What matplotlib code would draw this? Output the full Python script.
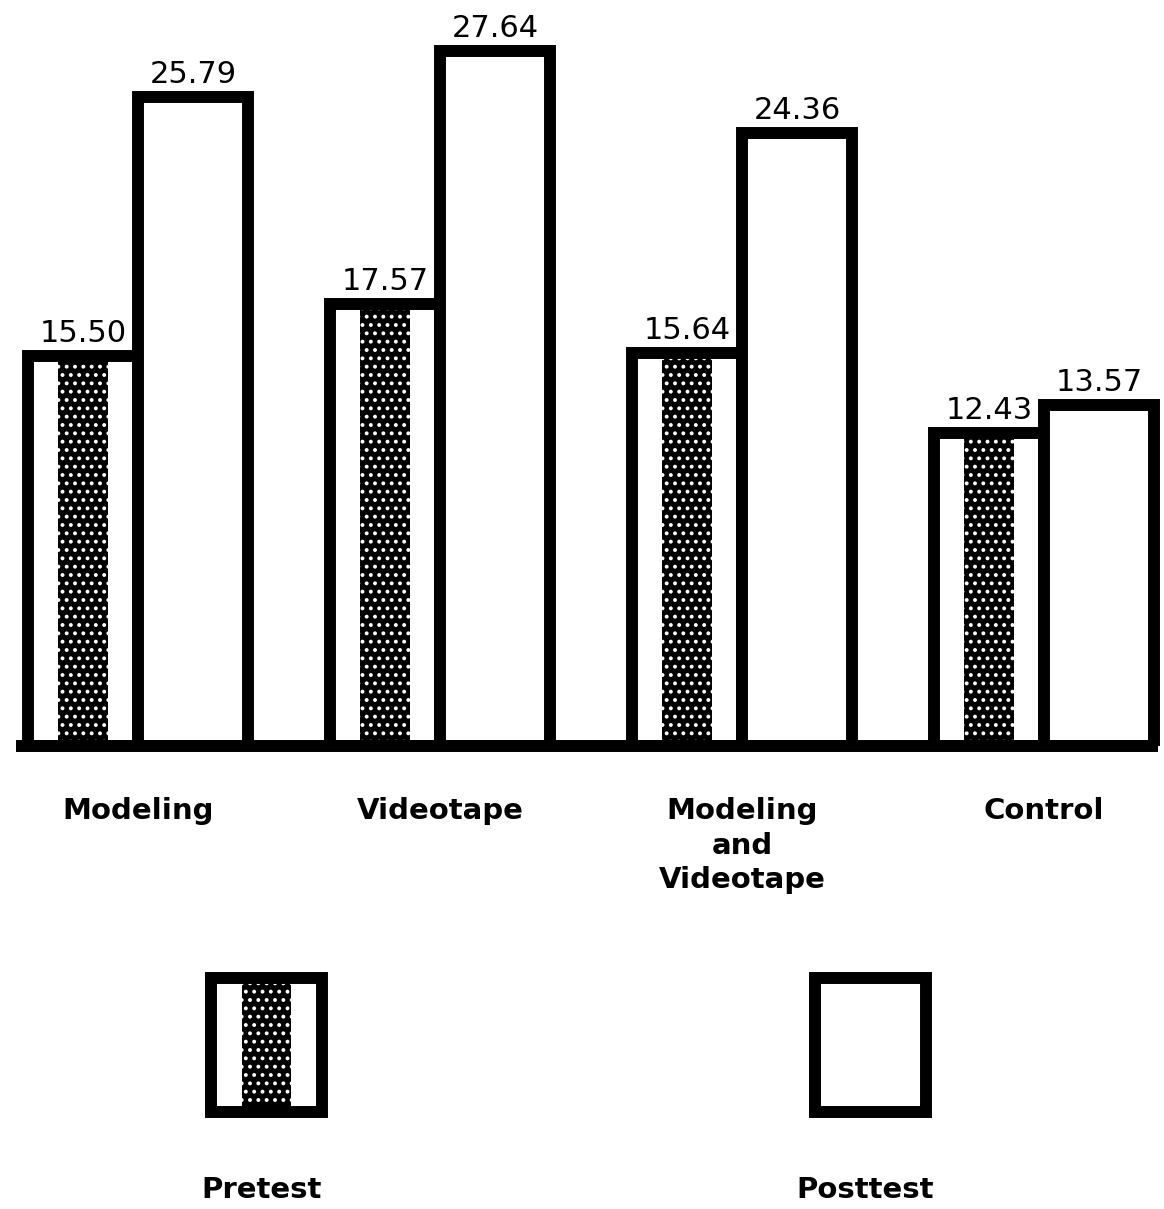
import matplotlib
matplotlib.use("Agg")
import matplotlib.pyplot as plt
from matplotlib.patches import Rectangle
import numpy as np

# ---- data ----
categories = ["Modeling", "Videotape", "Modeling\nand\nVideotape", "Control"]
pretest = [15.50, 17.57, 15.64, 12.43]
posttest = [25.79, 27.64, 24.36, 13.57]
pre_labels = ["15.50", "17.57", "15.64", "12.43"]
post_labels = ["25.79", "27.64", "24.36", "13.57"]
legend_labels = ["Pretest", "Posttest"]

plt.rcParams["hatch.linewidth"] = 1.6

W, H = 1164, 1209
fig = plt.figure(figsize=(W / 100, H / 100), dpi=100)
fig.patch.set_facecolor("white")

base_px = 746          # pixel row of the zero line
px_per_unit = 25.15
ax = fig.add_axes([0, 1 - base_px / H, 1, base_px / H])
ax.set_xlim(0, W)
ax.set_ylim(0, base_px / px_per_unit)
ax.axis("off")

LW = 8.6  # ~12 px border
group_c = 138 + 302 * np.arange(len(categories))
bw = 110
strip_w = 50

pre_x = group_c - bw / 2
post_x = group_c + bw / 2

# pretest bars: white, stipple strip, outline on top
ax.bar(pre_x, pretest, width=bw, color="white", edgecolor="none", zorder=2)
ax.bar(pre_x, pretest, width=strip_w, color="black", edgecolor="white",
       linewidth=0, hatch="..", zorder=3)
ax.bar(pre_x, pretest, width=bw, facecolor="none", edgecolor="black",
       linewidth=LW, zorder=4, joinstyle="miter")
# posttest bars
ax.bar(post_x, posttest, width=bw, facecolor="white", edgecolor="black",
       linewidth=LW, zorder=4, joinstyle="miter")

# baseline
ax.plot([pre_x[0] - bw / 2 - 12, post_x[-1] + bw / 2 + 4], [0, 0], color="black",
        lw=LW, solid_capstyle="butt", zorder=5, clip_on=False)

# value labels
for x, v, t in zip(pre_x, pretest, pre_labels):
    ax.annotate(t, (x, v), xytext=(0, 10), textcoords="offset points",
                ha="center", va="baseline", fontsize=22, color="black")
for x, v, t in zip(post_x, posttest, post_labels):
    ax.annotate(t, (x, v), xytext=(0, 10), textcoords="offset points",
                ha="center", va="baseline", fontsize=22, color="black")

# category labels
for c, lab in zip(group_c, categories):
    fig.text(c / W, 1 - 797 / H, lab, ha="center", va="top", fontsize=21,
             fontweight="bold", linespacing=1.3, color="black")

# legend (overlay axes in pixel coords)
lax = fig.add_axes([0, 0, 1, 1], zorder=-1)
lax.set_xlim(0, W)
lax.set_ylim(H, 0)
lax.axis("off")
box_lw = LW
for cx, lab, kind in [(266.5, legend_labels[0], "pre"), (870, legend_labels[1], "post")]:
    bx0, by0, bww, bhh = cx - 55.5, 978, 111, 134
    lax.add_patch(Rectangle((bx0, by0), bww, bhh, facecolor="white",
                            edgecolor="none", zorder=1))
    if kind == "pre":
        lax.add_patch(Rectangle((cx - 24.5, by0), 49, bhh, facecolor="black",
                                edgecolor="white", linewidth=0, hatch="..",
                                zorder=2))
    lax.add_patch(Rectangle((bx0, by0), bww, bhh, facecolor="none",
                            edgecolor="black", linewidth=box_lw, zorder=3,
                            joinstyle="miter"))
    lax.text(cx - 5, 1198, lab, ha="center", va="baseline", fontsize=21,
             fontweight="bold", color="black")

fig.savefig("out.png", dpi=100, facecolor="white")
